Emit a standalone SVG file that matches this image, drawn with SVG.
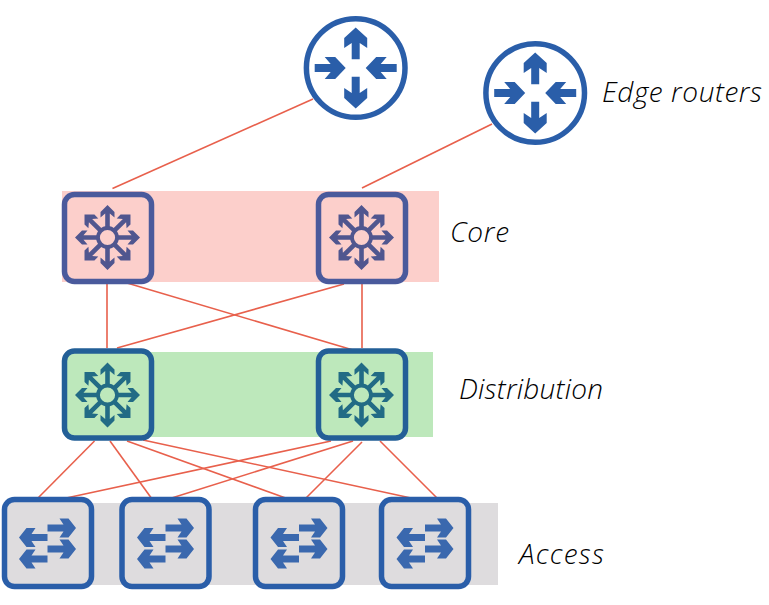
<svg xmlns="http://www.w3.org/2000/svg" width="769" height="605" viewBox="0 0 769 605">
<style>
.lbl{font-family:"Open Sans","Lato",sans-serif;font-style:italic;font-weight:300;font-size:28px;fill:#000}
.ln{stroke:#e8604c;stroke-width:1.6;fill:none}
.box{stroke-width:5.5}
.rt{fill:#fff;stroke:#2a5ea9;stroke-width:5.5}
.ra{fill:#2a5ea9}
.sa{fill:#3a68ae}
</style>
<defs>
<polygon id="ra" points="0,-40.500 11.500,-30 11.500,-20 4,-25 4,-8.700 -4,-8.700 -4,-25 -11.500,-20 -11.500,-30"/>
<polygon id="rh" points="-41,-4 -25,-4 -31,-11 -20.500,-11 -10,0 -20.500,11 -31,11 -25,4 -41,4"/>
<g id="routerArrows" class="ra">
<use href="#ra"/><use href="#ra" transform="scale(1,-1)"/>
<use href="#rh"/><use href="#rh" transform="scale(-1,1)"/>
</g>
<polygon id="spoke" points="0,-32.500 7,-25.500 7,-20 2.300,-24 2.300,-10 -2.300,-10 -2.300,-24 -7,-20 -7,-25.500"/>
<g id="star">
<use href="#spoke"/><use href="#spoke" transform="rotate(45)"/><use href="#spoke" transform="rotate(90)"/><use href="#spoke" transform="rotate(135)"/><use href="#spoke" transform="rotate(180)"/><use href="#spoke" transform="rotate(225)"/><use href="#spoke" transform="rotate(270)"/><use href="#spoke" transform="rotate(315)"/>
</g>
<polygon id="sw" points="0,-3.600 16,-3.600 12,-9.500 21,-9.500 28.500,0 21,9.500 12,9.500 16,3.600 0,3.600"/>
<g id="swIcon" class="sa">
<use href="#sw" transform="translate(0,-15)"/><use href="#sw" transform="translate(0,6)"/>
<use href="#sw" transform="translate(0,-5.500) scale(-1,1)"/><use href="#sw" transform="translate(0,16) scale(-1,1)"/>
</g>
</defs>
<g id="bands">
<rect x="62" y="191" width="377" height="91" fill="#fccfcb"/>
<rect x="108" y="352" width="325" height="85" fill="#bde8bb"/>
<rect x="40" y="503" width="458" height="82" fill="#dedcde"/>
</g>
<g id="connectors" class="ln">
<line x1="313" y1="99" x2="112.500" y2="188.500"/>
<line x1="492" y1="124" x2="362" y2="188"/>
<line x1="107" y1="284" x2="107" y2="348"/>
<line x1="127" y1="283" x2="353" y2="350"/>
<line x1="344" y1="284" x2="117" y2="348"/>
<line x1="362" y1="284" x2="362" y2="348"/>
<line x1="94.500" y1="441" x2="37" y2="499"/>
<line x1="110" y1="441" x2="152" y2="499"/>
<line x1="127" y1="441" x2="287" y2="498.500"/>
<line x1="143" y1="440" x2="411" y2="498"/>
<line x1="331" y1="441" x2="57" y2="500"/>
<line x1="353" y1="441" x2="168.500" y2="499"/>
<line x1="362" y1="442" x2="304.500" y2="499.500"/>
<line x1="380" y1="441" x2="437" y2="498"/>
</g>
<g id="router1">
<circle class="rt" cx="355.700" cy="68" r="49.300"/>
<use href="#routerArrows" transform="translate(355.700,68)"/>
</g>
<g id="router2">
<circle class="rt" cx="535.200" cy="93" r="49.300"/>
<use href="#routerArrows" transform="translate(535.200,93)"/>
</g>
<g id="core1">
<rect class="box" x="64.500" y="194.500" width="87" height="87" rx="10" fill="#fccfcb" stroke="#4a5a9c"/>
<g transform="translate(107.500,237.500)" fill="#50568f"><use href="#star"/><circle r="9.500" fill="#fccfcb" stroke="#50568f" stroke-width="3.800"/></g>
</g>
<g id="core2">
<rect class="box" x="318.500" y="194.500" width="87" height="87" rx="10" fill="#fccfcb" stroke="#4a5a9c"/>
<g transform="translate(361.500,237.500)" fill="#50568f"><use href="#star"/><circle r="9.500" fill="#fccfcb" stroke="#50568f" stroke-width="3.800"/></g>
</g>
<g id="dist1">
<rect class="box" x="64.500" y="351" width="87" height="87" rx="10" fill="#bde8bb" stroke="#235f97"/>
<g transform="translate(107.500,395)" fill="#226b85"><use href="#star"/><circle r="9.500" fill="#bde8bb" stroke="#226b85" stroke-width="3.800"/></g>
</g>
<g id="dist2">
<rect class="box" x="318.500" y="351" width="87" height="87" rx="10" fill="#bde8bb" stroke="#235f97"/>
<g transform="translate(361.500,395)" fill="#226b85"><use href="#star"/><circle r="9.500" fill="#bde8bb" stroke="#226b85" stroke-width="3.800"/></g>
</g>
<g id="access1">
<rect class="box" x="4.500" y="499.500" width="87" height="87" rx="10" fill="#dedcde" stroke="#2a5ea9"/>
<use href="#swIcon" transform="translate(47.500,543)"/>
</g>
<g id="access2">
<rect class="box" x="122" y="499.500" width="87" height="87" rx="10" fill="#dedcde" stroke="#2a5ea9"/>
<use href="#swIcon" transform="translate(165.500,543)"/>
</g>
<g id="access3">
<rect class="box" x="255.500" y="499.500" width="87" height="87" rx="10" fill="#dedcde" stroke="#2a5ea9"/>
<use href="#swIcon" transform="translate(299,543)"/>
</g>
<g id="access4">
<rect class="box" x="381.500" y="499.500" width="87" height="87" rx="10" fill="#dedcde" stroke="#2a5ea9"/>
<use href="#swIcon" transform="translate(425,543)"/>
</g>
<g id="labels">
<text class="lbl" x="602" y="102" textLength="160" lengthAdjust="spacing">Edge routers</text>
<text class="lbl" x="450" y="242" textLength="59" lengthAdjust="spacing">Core</text>
<text class="lbl" x="459" y="399" textLength="144" lengthAdjust="spacing">Distribution</text>
<text class="lbl" x="519" y="564" textLength="85" lengthAdjust="spacing">Access</text>
</g>
</svg>
